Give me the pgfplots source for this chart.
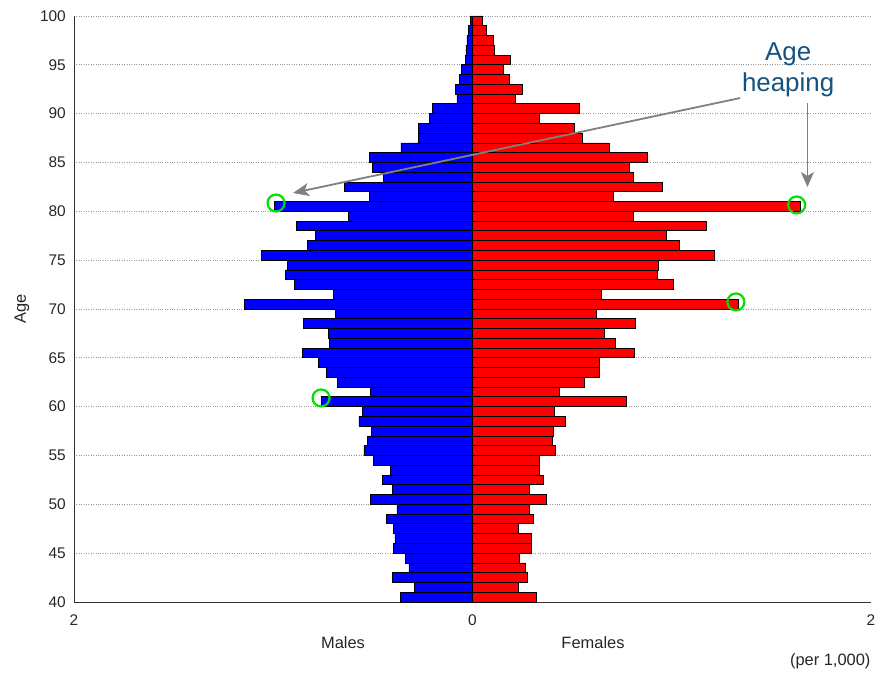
\documentclass[border=0pt]{standalone}
\usepackage{pgfplots}
\pgfplotsset{compat=1.18}
\usepackage{pgfplotstable}
\usepackage{fontspec}
\setmainfont{Liberation Sans}
\usetikzlibrary{arrows.meta}

\definecolor{heapblue}{RGB}{20,82,128}
\definecolor{ringgreen}{RGB}{0,225,0}
\definecolor{arrowgray}{RGB}{128,128,128}

% Population per 1,000 by single year of age
\pgfplotstableread{
age male female
40 0.362 0.322
41 0.292 0.232
42 0.404 0.274
43 0.319 0.267
44 0.336 0.237
45 0.399 0.297
46 0.389 0.294
47 0.397 0.229
48 0.431 0.304
49 0.379 0.287
50 0.510 0.371
51 0.402 0.286
52 0.450 0.354
53 0.414 0.337
54 0.496 0.334
55 0.545 0.416
56 0.526 0.399
57 0.505 0.408
58 0.570 0.466
59 0.553 0.409
60 0.757 0.774
61 0.510 0.434
62 0.677 0.563
63 0.735 0.637
64 0.775 0.637
65 0.855 0.814
66 0.717 0.717
67 0.721 0.663
68 0.847 0.817
69 0.687 0.622
70 1.143 1.335
71 0.699 0.647
72 0.895 1.006
73 0.937 0.927
74 0.931 0.934
75 1.059 1.216
76 0.827 1.039
77 0.786 0.971
78 0.882 1.175
79 0.621 0.810
80 0.992 1.645
81 0.519 0.708
82 0.644 0.954
83 0.448 0.807
84 0.504 0.789
85 0.519 0.879
86 0.359 0.685
87 0.272 0.553
88 0.272 0.513
89 0.214 0.336
90 0.202 0.536
91 0.078 0.214
92 0.086 0.249
93 0.064 0.187
94 0.056 0.155
95 0.036 0.190
96 0.033 0.112
97 0.028 0.107
98 0.020 0.068
99 0.010 0.048
}\pyramid

\begin{document}
\begin{tikzpicture}
\begin{axis}[
  name=ax,
  scale only axis,
  width=797bp, height=586bp,
  xmin=-2, xmax=2, ymin=40, ymax=100,
  clip=false,
  axis x line*=bottom, axis y line*=left,
  axis line style={-, black!80, line width=0.9bp},
  xtick={-2,0,2}, xticklabels={2,0,2},
  ytick={40,45,...,100},
  major tick length=0pt,
  /pgf/number format/assume math mode=true,
  tick label style={font=\fontsize{15.5}{18}\selectfont, text=black!85},
  xticklabel style={inner sep=0pt, anchor=north, yshift=-12.5bp},
  yticklabel style={inner sep=0pt, anchor=east, xshift=-8bp},
  ymajorgrids,
  major grid style={black!40, dotted, line width=0.9bp},
]
% males to the left, females to the right
\addplot[xbar, bar shift=0pt, bar width=1, fill=blue, draw=black, line width=0.8bp]
  table[x expr=-\thisrow{male}, y expr=\thisrow{age}+0.5]{\pyramid};
\addplot[xbar, bar shift=0pt, bar width=1, fill=red, draw=black, line width=0.8bp]
  table[x=female, y expr=\thisrow{age}+0.5]{\pyramid};

% rings on the heaped ages
\addplot[only marks, mark=o, mark size=8.5bp,
  mark options={draw=ringgreen, line width=2.2bp}]
  coordinates {(-0.986,80.85) (1.627,80.65) (1.322,70.72) (-0.760,60.89)};

\node[align=center, text=heapblue, font=\fontsize{26}{31}\selectfont]
  at (axis cs:1.584,94.47) {Age\\heaping};
\draw[arrowgray, line width=1.8bp, -{Stealth[length=16bp, width=13bp, inset=4bp]}]
  (axis cs:1.343,91.6) -- (axis cs:-0.901,81.88);
\draw[arrowgray, line width=1.8bp, -{Stealth[length=15bp, width=13bp, inset=4bp]}]
  (axis cs:1.681,91.09) -- (axis cs:1.681,82.49);
\end{axis}

\begin{scope}[font=\fontsize{16.5}{19}\selectfont, text=black!85]
\node at ([shift={(269bp,-41bp)}]ax.south west) {Males};
\node at ([shift={(519bp,-41bp)}]ax.south west) {Females};
\node[anchor=east] at ([shift={(3bp,-59bp)}]ax.south east) {(per 1,000)};
\node[anchor=east] at ([shift={(-70bp,-59bp)}]ax.south west) {(per 1,000)};
\node[rotate=90] at ([shift={(-52bp,0bp)}]ax.west) {Age};
\end{scope}

\pgfresetboundingbox
\path[use as bounding box] ([shift={(-74bp,-71bp)}]ax.south west) rectangle ([shift={(810bp,16bp)}]ax.north west);
\end{tikzpicture}
\end{document}
